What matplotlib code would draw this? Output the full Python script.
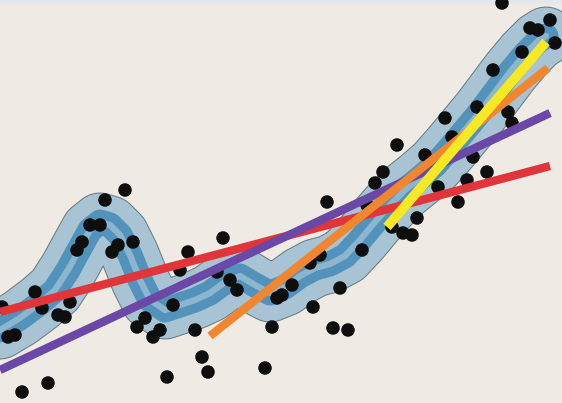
import matplotlib
matplotlib.use("Agg")
import matplotlib.pyplot as plt
import matplotlib.patheffects as pe

# Smoothed series (centre of the uncertainty band)
smooth_x = [0, 20, 40, 55, 68, 80, 90, 100, 110, 120, 130, 140, 150, 165, 180, 195,
            210, 225, 240, 255, 270, 285, 300, 315, 330, 345, 360, 375, 390, 405,
            420, 435, 450, 465, 480, 495, 510, 525, 538, 546]
smooth_y = [73, 85, 100, 113, 133, 155, 173, 181, 178, 168, 148, 123, 103, 93, 98, 103,
            110, 121, 127, 118, 110, 116, 127, 135, 139, 147, 163, 181, 198, 213,
            225, 238, 255, 273, 291, 311, 331, 349, 362, 367]

# Individual observations
obs_x = [125, 105, 90, 100, 82, 77, 118, 112, 133, 35, 70, 42, 58, 65, 2, 8, 15,
         137, 48, 22, 223, 188, 180, 217, 230, 237, 173, 145, 160, 153, 195, 277,
         272, 202, 208, 167, 265, 397, 383, 375, 327, 367, 403, 392, 362, 320, 310,
         292, 282, 340, 313, 333, 348, 502, 550, 530, 538, 555, 522, 493, 477, 508,
         445, 512, 425, 473, 452, 487, 467, 438, 458, 417, 412]
obs_y = [213, 203, 178, 178, 161, 153, 158, 151, 161, 111, 101, 95, 88, 86, 96, 66, 68,
         76, 20, 11, 165, 151, 133, 131, 123, 113, 98, 85, 73, 66, 73, 105,
         76, 46, 31, 26, 35, 258, 231, 220, 201, 198, 170, 176, 153, 148, 140,
         118, 108, 115, 96, 75, 73, 400, 383, 375, 373, 360, 351, 333, 296, 291,
         285, 280, 248, 246, 266, 231, 223, 216, 201, 185, 168]

# Linear trends over successively shorter periods: (x0, x1), (y0, y1)
trend_red = ([0, 550], [91, 237])
trend_purple = ([0, 550], [33, 290])
trend_orange = ([210, 548], [67, 335])
trend_yellow = ([387, 546], [176, 361])

BG = "#efebe4"

fig = plt.figure(figsize=(5.62, 4.03), dpi=100)
fig.patch.set_facecolor(BG)
ax = fig.add_axes([0, 0, 1, 1])
ax.set_facecolor(BG)
ax.set_xlim(0, 562)
ax.set_ylim(0, 403)
ax.axis("off")
ax.axhspan(400, 403, color="#e4e8ec", zorder=0)

# Uncertainty band: outer envelope, inner envelope, centre line
ax.plot(smooth_x, smooth_y, color="#a8c3d3", lw=41, solid_capstyle="round",
        solid_joinstyle="round", zorder=1,
        path_effects=[pe.Stroke(linewidth=42.5, foreground="#6a7c85"), pe.Normal()])
ax.plot(smooth_x, smooth_y, color="#5393bb", lw=18, solid_capstyle="round",
        solid_joinstyle="round", zorder=1.1)
ax.plot(smooth_x, smooth_y, color="#8cb6cf", lw=4.5, solid_capstyle="round",
        solid_joinstyle="round", zorder=1.2)

# Observations
ax.scatter(obs_x, obs_y, s=95, color="#0e0e0e", edgecolors="none", zorder=2)

# Trend lines
for (tx, ty), col, lw, z in [(trend_red, "#e0363b", 6, 3),
                             (trend_purple, "#6b47a6", 6, 3.1),
                             (trend_orange, "#f0862f", 6, 3.2),
                             (trend_yellow, "#f4e924", 7, 3.3)]:
    ax.plot(tx, ty, color=col, lw=lw, solid_capstyle="butt", zorder=z)

fig.savefig("out.png", dpi=100, facecolor=BG)
